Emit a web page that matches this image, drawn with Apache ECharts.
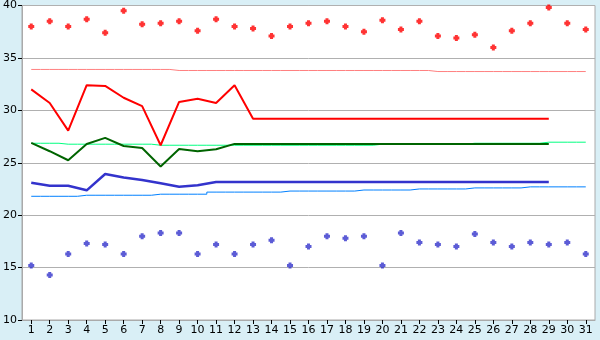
<!DOCTYPE html>
<html>
<head>
<meta charset="utf-8">
<script src="https://cdn.jsdelivr.net/npm/echarts@6/dist/echarts.min.js"></script>
<style>
html,body{margin:0;padding:0;background:#d9eff6;}
#c{width:600px;height:340px;}
</style>
</head>
<body>
<div id="c"></div>
<script>
var days = ['1','2','3','4','5','6','7','8','9','10','11','12','13','14','15','16','17','18','19','20','21','22','23','24','25','26','27','28','29','30','31'];
var yTicks = {min: 10, max: 40, interval: 5};

var maxPoints = [38.0,38.5,38.0,38.7,37.4,39.5,38.2,38.3,38.5,37.6,38.7,38.0,37.8,37.1,38.0,38.3,38.5,38.0,37.5,38.6,37.7,38.5,37.1,36.9,37.2,36.0,37.6,38.3,39.8,38.3,37.7];
var minPoints = [15.2,14.3,16.3,17.3,17.2,16.3,18.0,18.3,18.3,16.3,17.2,16.3,17.2,17.6,15.2,17.0,18.0,17.8,18.0,15.2,18.3,17.4,17.2,17.0,18.2,17.4,17.0,17.4,17.2,17.4,16.3];

var maxNormal = [33.9,33.9,33.9,33.9,33.9,33.9,33.9,33.9,33.8,33.8,33.8,33.8,33.8,33.8,33.8,33.8,33.8,33.8,33.8,33.8,33.8,33.8,33.7,33.7,33.7,33.7,33.7,33.7,33.7,33.7,33.7];
var meanNormal = [26.86,26.86,26.77,26.77,26.77,26.77,26.77,26.67,26.67,26.67,26.67,26.67,26.67,26.67,26.67,26.67,26.67,26.67,26.67,26.77,26.77,26.77,26.77,26.77,26.86,26.86,26.86,26.86,26.96,26.96,26.96];
var minNormal = [21.8,21.8,21.8,21.9,21.9,21.9,21.9,22.0,22.0,22.0,22.2,22.2,22.2,22.2,22.3,22.3,22.3,22.3,22.4,22.4,22.4,22.5,22.5,22.5,22.6,22.6,22.6,22.7,22.7,22.7,22.7];

var maxLine = [32.0,30.7,28.06,32.4,32.33,31.2,30.4,26.67,30.8,31.1,30.7,32.4,29.2,29.2,29.2,29.2,29.2,29.2,29.2,29.2,29.2,29.2,29.2,29.2,29.2,29.2,29.2,29.2,29.2];
var meanLine = [26.89,26.1,25.24,26.79,27.37,26.6,26.41,24.64,26.32,26.1,26.28,26.8,26.8,26.8,26.8,26.8,26.8,26.8,26.8,26.8,26.8,26.8,26.8,26.8,26.8,26.8,26.8,26.8,26.8];
var minLine = [23.1,22.8,22.8,22.37,23.93,23.6,23.36,23.04,22.72,22.85,23.17,23.17,23.17,23.17,23.17,23.17,23.17,23.17,23.17,23.17,23.17,23.17,23.17,23.17,23.17,23.17,23.17,23.17,23.17];

var plusPath = 'path://M1.5,0H4.5V1.5H6V4.5H4.5V6H1.5V4.5H0V1.5H1.5Z';
var font = 'DejaVu Sans';

function thinLine(data, color) {
  return {type:'line', data:data, showSymbol:false, symbol:'none', step:'middle',
    lineStyle:{color:color, width:1}, itemStyle:{color:color}, z:2, silent:true};
}
function thickLine(data, color, w) {
  return {type:'line', data:data, showSymbol:false, symbol:'none',
    lineStyle:{color:color, width:w}, itemStyle:{color:color}, z:3, silent:true};
}
function points(data, color) {
  return {type:'scatter', data:data, symbol:plusPath, symbolSize:6,
    itemStyle:{color:color}, z:4, silent:true};
}

var chart = echarts.init(document.getElementById('c'), null, {renderer:'canvas'});
chart.setOption({
  animation:false,
  backgroundColor:'#d9eff6',
  grid:{left:20, right:5, top:5, bottom:20, show:true, backgroundColor:'#ffffff', borderColor:'#aaaaaa', borderWidth:1, containLabel:false},
  xAxis:{type:'category', data:days, boundaryGap:true,
    axisLine:{show:true, lineStyle:{color:'#aaaaaa', width:1}},
    axisTick:{show:true, alignWithLabel:true, length:4, lineStyle:{color:'#000000'}},
    axisLabel:{color:'#000000', fontFamily:font, fontSize:11, margin:5, interval:0},
    splitLine:{show:false}},
  yAxis:{type:'value', min:yTicks.min, max:yTicks.max, interval:yTicks.interval,
    axisLine:{show:true, lineStyle:{color:'#aaaaaa', width:1}},
    axisTick:{show:true, length:4, lineStyle:{color:'#000000'}},
    axisLabel:{color:'#000000', fontFamily:font, fontSize:11, margin:5},
    splitLine:{show:true, lineStyle:{color:'#b0b0b0', width:1}}},
  series:[
    thinLine(maxNormal, '#ff8080'),
    thinLine(meanNormal, '#00ff80'),
    thinLine(minNormal, '#0080ff'),
    thickLine(maxLine, '#ff0000', 2),
    thickLine(meanLine, '#006400', 2),
    thickLine(minLine, '#3333cc', 2.5),
    points(maxPoints, '#ff0000'),
    points(minPoints, '#3333cc')
  ]
});
</script>
</body>
</html>
